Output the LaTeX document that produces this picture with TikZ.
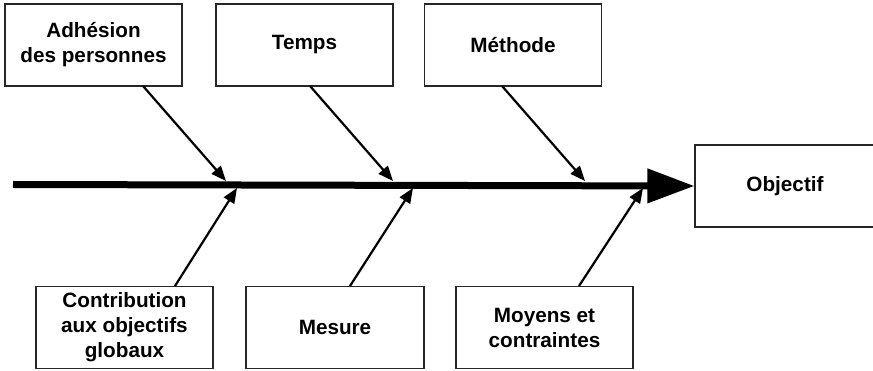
\documentclass[tikz,border=0pt]{standalone}
\usepackage{fontspec}
\setmainfont{Liberation Sans}
\usetikzlibrary{arrows.meta}
\begin{document}
\begin{tikzpicture}[x=1pt,y=-1pt,
  cause/.style={draw=black!85,line width=1.1pt,fill=white,inner sep=0pt,
    minimum width=177pt,align=center,font=\fontsize{20.7}{25}\selectfont\bfseries},
  branch/.style={line width=2.2pt,-{Triangle[length=15pt,width=12pt]}},
  spine/.style={line width=7pt,-{Triangle[length=47pt,width=33pt]}}]
\useasboundingbox (0,0) rectangle (873,371);
% top causes
\node[cause,minimum height=82pt] (adh) at (93.5,45) {Adhésion\\des personnes};
\node[cause,minimum height=82pt] (tps) at (304.5,45) {Temps};
\node[cause,minimum height=82pt] (met) at (513,45) {Méthode};
% bottom causes
\node[cause,minimum height=82pt,minimum width=177pt] (con) at (124.5,327.5) {Contribution\\aux objectifs\\globaux};
\node[cause,minimum height=82pt,minimum width=178pt] (mes) at (335,327.5) {Mesure};
\node[cause,minimum height=82pt,minimum width=177pt] (moy) at (544.5,327.5) {Moyens et\\contraintes};
% effect
\node[cause,minimum height=82pt,minimum width=180pt] (obj) at (785,186) {Objectif};
% spine
\coordinate (s0) at (13,184.5);
\draw[spine] (s0) -- (obj.west);
% branch start/end points
\coordinate (a0) at (143,86);  \coordinate (a1) at (226,181);
\coordinate (t0) at (310,86);  \coordinate (t1) at (393,181);
\coordinate (m0) at (502,86);  \coordinate (m1) at (585,181);
\coordinate (c0) at (175,286); \coordinate (c1) at (237,188);
\coordinate (e0) at (350,286); \coordinate (e1) at (413,188);
\coordinate (y0) at (579,286); \coordinate (y1) at (643,188);
\draw[branch] (a0) -- (a1);
\draw[branch] (t0) -- (t1);
\draw[branch] (m0) -- (m1);
\draw[branch] (c0) -- (c1);
\draw[branch] (e0) -- (e1);
\draw[branch] (y0) -- (y1);
\end{tikzpicture}
\end{document}
